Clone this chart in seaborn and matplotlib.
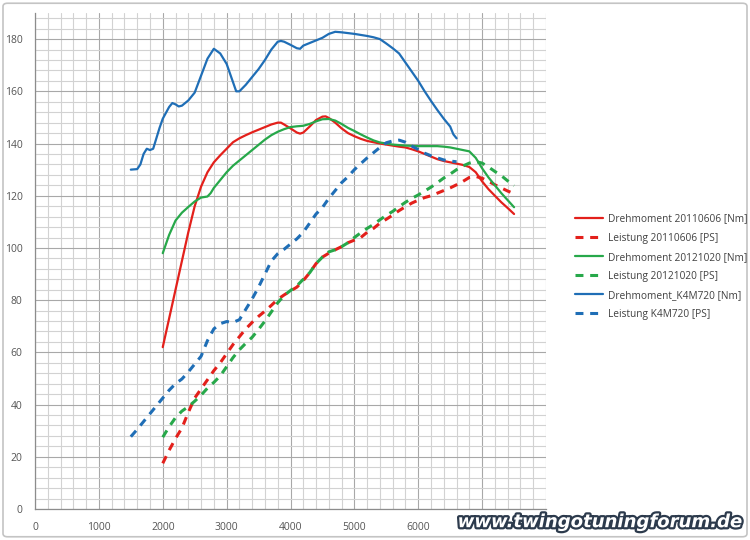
import numpy as np
import pandas as pd
import matplotlib
matplotlib.use("Agg")
import matplotlib.pyplot as plt
import matplotlib.patheffects as pe
from matplotlib.patches import FancyBboxPatch
from matplotlib.ticker import MultipleLocator, FuncFormatter
import seaborn as sns

# ---------------- data ----------------
rpm_k4_nm = [1500, 1600, 1650, 1700, 1750, 1800, 1850, 1900, 1950, 2000, 2100, 2150, 2200, 2250,
             2300, 2400, 2500, 2600, 2700, 2800, 2900, 3000, 3100, 3150, 3200, 3300, 3400, 3500,
             3600, 3700, 3800, 3850, 3900, 4000, 4100, 4150, 4200, 4300, 4400, 4500, 4600, 4700,
             4800, 4900, 5000, 5100, 5200, 5300, 5400, 5500, 5600, 5700, 5800, 5900, 6000, 6100,
             6200, 6300, 6400, 6500, 6550, 6600]
k4_nm = [130, 130.2, 132, 136, 138, 137.5, 138, 142, 146, 149.5, 154, 155.5, 155, 154.2,
         154.5, 156.5, 159.5, 166, 172.5, 176.3, 174.5, 170.5, 163.5, 160, 160, 162.5, 165.5, 168.5,
         172, 176, 179, 179.3, 179, 177.8, 176.5, 176.3, 177.5, 178.5, 179.5, 180.5, 182, 182.8,
         182.6, 182.3, 182, 181.6, 181.2, 180.7, 180, 178.3, 176.5, 174.5, 171, 167.5, 164, 160,
         156.3, 152.8, 149.5, 146.5, 143.5, 142]

rpm_k4_ps = [1500, 1600, 1700, 1800, 1900, 2000, 2100, 2200, 2300, 2400, 2500, 2600, 2700, 2800,
             2900, 3000, 3100, 3200, 3300, 3400, 3500, 3600, 3700, 3800, 3900, 4000, 4100, 4200,
             4300, 4400, 4500, 4600, 4700, 4800, 4900, 5000, 5100, 5200, 5300, 5400, 5500, 5600,
             5700, 5800, 5900, 6000, 6100, 6200, 6300, 6400, 6500, 6600]
k4_ps = [27.7, 30.5, 33.5, 36.5, 39.5, 42.5, 45.5, 48, 49.8, 52.5, 55.5, 58.5, 64.5, 69,
         71, 71.8, 71.5, 72.5, 76.5, 80.5, 85, 90, 95, 97.8, 99.5, 101.5, 103.5, 106,
         109.5, 113, 115.5, 119, 122, 125, 127.3, 130, 132.3, 134.5, 136.5, 138.5, 140.3, 141,
         141.3, 140.5, 139, 137.7, 136.3, 135.3, 134.5, 133.7, 133.3, 133]

rpm_2011_nm = [2000, 2100, 2200, 2300, 2400, 2500, 2600, 2700, 2800, 2900, 3000, 3100, 3200, 3300,
               3400, 3500, 3600, 3700, 3800, 3850, 3900, 4000, 4100, 4150, 4200, 4300, 4400, 4500,
               4550, 4600, 4700, 4800, 4900, 5000, 5100, 5200, 5300, 5400, 5500, 5600, 5700, 5800,
               5900, 6000, 6100, 6200, 6300, 6400, 6500, 6600, 6700, 6800, 6900, 7000, 7100, 7200,
               7300, 7400, 7500]
d2011_nm = [62, 73, 84, 95, 106, 116, 123.5, 129, 132.8, 135.5, 138, 140.5, 142, 143.2,
            144.3, 145.3, 146.3, 147.3, 148, 148, 147.3, 145.8, 144.2, 143.8, 144.2, 146.5, 149, 150.3,
            150.4, 149.8, 148, 145.8, 144, 142.8, 141.8, 141, 140.5, 140, 139.6, 139.2, 138.8, 138.5,
            137.8, 137, 136, 135, 134, 133.3, 132.8, 132.3, 131.8, 131, 129, 125.5, 122.5, 120,
            117.5, 115.3, 113]

rpm_2011_ps = [2000, 2100, 2200, 2300, 2400, 2500, 2600, 2700, 2800, 2900, 3000, 3100, 3200, 3300,
               3400, 3500, 3600, 3700, 3800, 3900, 4000, 4100, 4200, 4300, 4400, 4500, 4600, 4700,
               4800, 4900, 5000, 5100, 5200, 5300, 5400, 5500, 5600, 5700, 5800, 5900, 6000, 6100,
               6200, 6300, 6400, 6500, 6600, 6700, 6800, 6900, 7000, 7100, 7200, 7300, 7400, 7500]
d2011_ps = [17.5, 22.5, 27, 31, 37, 42.5, 46, 49.5, 53, 56, 59.5, 63, 66, 69,
            71.5, 73.8, 75.8, 78, 80.3, 82, 83.5, 85, 87.5, 90.5, 94, 96.5, 98, 99.3,
            100.5, 102, 103, 104, 106, 107.5, 109.5, 111, 112.6, 114.3, 115.8, 117.2, 118.3, 119.3,
            120, 121, 122, 123, 124.2, 125.5, 127, 127.4, 126.7, 125.5, 124.2, 123, 121.8, 120.8]

rpm_2012_nm = [2000, 2100, 2200, 2300, 2400, 2500, 2600, 2700, 2750, 2800, 2900, 3000, 3100, 3200,
               3300, 3400, 3500, 3600, 3700, 3800, 3900, 4000, 4100, 4200, 4300, 4400, 4500, 4600,
               4700, 4800, 4900, 5000, 5100, 5200, 5300, 5400, 5500, 5600, 5700, 5800, 5900, 6000,
               6100, 6200, 6300, 6400, 6500, 6600, 6700, 6800, 6900, 7000, 7100, 7200, 7300, 7400,
               7500]
d2012_nm = [98, 105, 110.5, 113.5, 115.7, 117.8, 119.3, 119.7, 121, 123, 126, 129, 131.5, 133.5,
            135.5, 137.5, 139.5, 141.5, 143.2, 144.5, 145.5, 146.3, 146.6, 146.8, 147.5, 148.5, 149.3, 149.4,
            148.8, 147.5, 146, 144.8, 143.5, 142.3, 141.2, 140.4, 140, 139.6, 139.4, 139.2, 139.1, 139,
            139, 139, 139, 138.8, 138.5, 138, 137.5, 137, 134.5, 130.5, 127, 124, 121, 118.3,
            115.6]

rpm_2012_ps = [2000, 2100, 2200, 2300, 2400, 2500, 2600, 2700, 2800, 2900, 3000, 3100, 3200, 3300,
               3400, 3500, 3600, 3700, 3800, 3900, 4000, 4100, 4200, 4300, 4400, 4500, 4600, 4700,
               4800, 4900, 5000, 5100, 5200, 5300, 5400, 5500, 5600, 5700, 5800, 5900, 6000, 6100,
               6200, 6300, 6400, 6500, 6600, 6700, 6800, 6900, 7000, 7100, 7200, 7300, 7400, 7500]
d2012_ps = [27.5, 31.5, 35, 37.5, 39.2, 41.3, 43.6, 46.3, 48.5, 51, 54.5, 58, 61, 63.5,
            65.8, 68.8, 72, 75.5, 79, 81.8, 83.7, 85.5, 88, 90.5, 94, 96.5, 98.5, 99.3,
            100.5, 102, 104, 105.8, 107.5, 109, 110.8, 112.5, 114, 115.8, 117.5, 119, 120.3, 121.8,
            123.3, 125, 126.8, 128.3, 130, 131.4, 132.5, 133.1, 132.5, 131, 129.3, 127.7, 125.7, 123.8]

series_labels = ["Drehmoment 20110606 [Nm]", "Leistung 20110606 [PS]",
                 "Drehmoment 20121020 [Nm]", "Leistung 20121020 [PS]",
                 "Drehmoment_K4M720 [Nm]", "Leistung K4M720 [PS]"]
series_x = [rpm_2011_nm, rpm_2011_ps, rpm_2012_nm, rpm_2012_ps, rpm_k4_nm, rpm_k4_ps]
series_y = [d2011_nm, d2011_ps, d2012_nm, d2012_ps, k4_nm, k4_ps]

RED, GREEN, BLUE = "#E3201B", "#27A84A", "#1F6EB6"
series_colors = [RED, RED, GREEN, GREEN, BLUE, BLUE]
series_dashed = [False, True, False, True, False, True]

# ---------------- figure ----------------
sns.set_theme(style="white")
plt.rcParams["font.family"] = ["Open Sans", "DejaVu Sans"]

fig = plt.figure(figsize=(7.5, 5.4), dpi=100)
fig.patch.set_facecolor("white")
ax = fig.add_axes([35 / 750, 31 / 540, 511 / 750, 496 / 540])

handles = []
for xs, ys, lab, col, dashed in zip(series_x, series_y, series_labels, series_colors, series_dashed):
    df = pd.DataFrame({"rpm": xs, "val": ys})
    sns.lineplot(data=df, x="rpm", y="val", ax=ax, color=col, sort=False,
                 estimator=None, linewidth=2.2 if dashed else 1.6, legend=False, zorder=3)
    ln = ax.lines[-1]
    if dashed:
        ln.set_linestyle((0, (2.6, 2.2)))
    ln.set_solid_capstyle("round")
    ln.set_solid_joinstyle("round")
    ln.set_dash_capstyle("butt")
    ln.set_label(lab)
    handles.append(ln)

ax.set_xlim(0, 8000)
ax.set_ylim(0, 190)
ax.xaxis.set_major_locator(MultipleLocator(1000))
ax.xaxis.set_minor_locator(MultipleLocator(200))
ax.yaxis.set_major_locator(MultipleLocator(20))
ax.yaxis.set_minor_locator(MultipleLocator(4))
# the 7000 / 8000 labels sit under the watermark in the reference
ax.xaxis.set_major_formatter(FuncFormatter(lambda v, p: "" if v > 6500 else f"{v:.0f}"))
ax.grid(which="major", color="#a8a8a8", linewidth=0.8, zorder=0)
ax.grid(which="minor", color="#d2d2d2", linewidth=0.8, zorder=0)
ax.set_axisbelow(True)
ax.set_xlabel("")
ax.set_ylabel("")
for s in ["top", "right"]:
    ax.spines[s].set_visible(False)
for s in ["left", "bottom"]:
    ax.spines[s].set_color("#8c8c8c")
    ax.spines[s].set_linewidth(0.9)
ax.tick_params(which="major", direction="out", length=4, width=0.8, color="#8c8c8c",
               labelsize=7.5, labelcolor="#555555", pad=5)
ax.tick_params(which="minor", length=0)

leg = fig.legend(handles=handles, loc="center left", bbox_to_anchor=(575 / 750, 0.506),
                 frameon=False, fontsize=7.3, handlelength=2.8, handletextpad=0.45,
                 labelspacing=0.8, borderpad=0, borderaxespad=0)
for t in leg.get_texts():
    t.set_color("#404040")

# chart border
border = FancyBboxPatch((0.004, 0.006), 0.992, 0.988, boxstyle="round,pad=0,rounding_size=0.006",
                        transform=fig.transFigure, fill=False, edgecolor="#c4c4c4",
                        linewidth=1.2, zorder=-1)
fig.patches.append(border)

# watermark
fig.text(0.989, 0.033, "www.twingotuningforum.de", ha="right", va="center",
         fontsize=13, fontweight="heavy", style="italic", color="white",
         family=["DejaVu Sans"],
         path_effects=[pe.withStroke(linewidth=3.2, foreground="#2c3a4c")], zorder=10)

fig.savefig("out.png", dpi=100, facecolor="white")
